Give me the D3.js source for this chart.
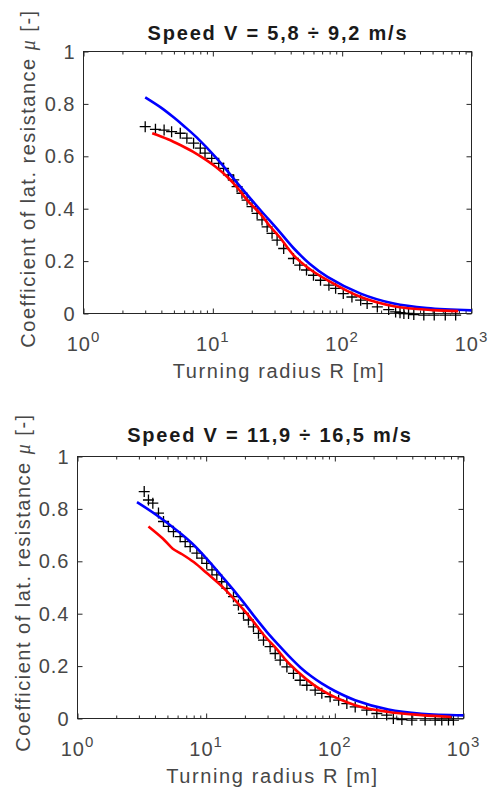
<!DOCTYPE html>
<html>
<head>
<meta charset="utf-8">
<script src="https://cdnjs.cloudflare.com/ajax/libs/d3/7.8.5/d3.min.js"></script>
<style>
  body { margin: 0; background: #fff; }
  svg { display: block; font-family: 'Liberation Sans', Arial, sans-serif; }
</style>
</head>
<body>
<svg id="chart" width="491" height="792"></svg>
<script>
// titles and tick labels
const titles = ['Speed V = 5,8 \u00f7 9,2 m/s', 'Speed V = 11,9 \u00f7 16,5 m/s']
const xLabel = 'Turning radius R [m]'
const yLabelText = 'Coefficient of lat. resistance '
const yTicks = [0, 0.2, 0.4, 0.6, 0.8, 1]
const yTickLabels = ['0', '0.2', '0.4', '0.6', '0.8', '1']
const xDecades = [0, 1, 2, 3]

// top panel: measured points (+), blue model, red model
const topMeasR = [3.0, 3.6, 4.2, 4.8, 5.6, 6.3, 7.1, 8.0, 8.7, 9.8, 11.1, 12.1, 13.2, 14.5, 15.4, 16.8, 18.4, 20.1, 22.0, 24.0, 26.3, 28.7, 31.4, 35.3, 42, 47, 53, 60, 68, 79, 89, 102, 119, 139, 156, 187, 229, 259, 280, 300, 326, 358, 428, 515, 627, 754]
const topMeasMu = [0.713, 0.703, 0.700, 0.694, 0.688, 0.669, 0.650, 0.631, 0.612, 0.592, 0.573, 0.554, 0.529, 0.510, 0.484, 0.459, 0.433, 0.408, 0.382, 0.357, 0.331, 0.306, 0.280, 0.248, 0.210, 0.185, 0.166, 0.146, 0.127, 0.108, 0.096, 0.076, 0.063, 0.051, 0.038, 0.025, 0.015, 0.006, 0.003, 0.0, 0.0, -0.004, -0.006, -0.006, -0.006, -0.006]
const topBlueR = [3, 4, 5, 6, 7.5, 10.8, 16.3, 23.3, 32, 42, 56, 77, 139, 251, 453, 1000]
const topBlueMu = [0.825, 0.785, 0.748, 0.715, 0.672, 0.59, 0.484, 0.395, 0.318, 0.25, 0.19, 0.14, 0.076, 0.038, 0.021, 0.012]
const topRedR = [3.4, 4.5, 5.6, 7, 8.5, 10.5, 12.9, 15.5, 18.4, 23.3, 27.9, 33, 42, 56, 77, 139, 251, 500, 790]
const topRedMu = [0.688, 0.665, 0.643, 0.618, 0.592, 0.56, 0.522, 0.48, 0.433, 0.38, 0.331, 0.29, 0.223, 0.17, 0.127, 0.063, 0.028, 0.013, 0.009]

// bottom panel
const botMeasR = [3.30, 3.56, 3.85, 4.26, 4.66, 5.09, 5.57, 6.28, 6.87, 7.51, 8.47, 9.26, 10.1, 11.1, 12.1, 13.2, 14.5, 16.3, 17.8, 19.5, 21.3, 23.3, 25.5, 27.9, 31.4, 34.4, 37.6, 42.4, 47.7, 53.7, 60.6, 70.3, 79.2, 91.9, 107, 124, 144, 177, 212, 253, 285, 332, 397, 503, 602, 678, 764, 835]
const botMeasMu = [0.866, 0.834, 0.822, 0.784, 0.752, 0.733, 0.713, 0.694, 0.675, 0.656, 0.631, 0.612, 0.592, 0.567, 0.548, 0.522, 0.497, 0.465, 0.433, 0.401, 0.376, 0.350, 0.325, 0.299, 0.274, 0.248, 0.223, 0.197, 0.172, 0.146, 0.127, 0.108, 0.096, 0.083, 0.070, 0.057, 0.044, 0.032, 0.019, 0.013, 0.0, -0.004, -0.006, -0.006, -0.006, -0.006, -0.006, -0.006]
const botBlueR = [2.9, 4.26, 7.75, 14, 18.9, 24, 29.7, 36, 43.6, 54, 66, 79, 100, 144, 261, 472, 1000]
const botBlueMu = [0.826, 0.771, 0.669, 0.529, 0.452, 0.386, 0.33, 0.284, 0.24, 0.195, 0.16, 0.134, 0.105, 0.07, 0.034, 0.018, 0.012]
const botRedR = [3.56, 4.6, 5.5, 6.5, 8, 10.1, 14, 18.9, 23.3, 28.8, 35.4, 43.6, 79, 144, 261, 472, 805]
const botRedMu = [0.733, 0.687, 0.648, 0.627, 0.597, 0.555, 0.493, 0.423, 0.37, 0.312, 0.265, 0.212, 0.108, 0.051, 0.025, 0.013, 0.006]

const svg = d3.select('#chart')
const textColor = '#474747'
const axisColor = '#262626'

function drawPanel(box, title, measR, measMu, blueR, blueMu, redR, redMu) {
  const g = svg.append('g')

  const x = d3.scaleLog().domain([1, 1000]).range([box.left, box.right])
  const y = d3.scaleLinear().domain([0, 1]).range([box.bottom, box.top])

  const minor = []
  xDecades.slice(0, -1).forEach(e => {
    for (let m = 2; m < 10; m++) minor.push(m * Math.pow(10, e))
  })
  const major = xDecades.map(e => Math.pow(10, e))

  const tickAxes = [
    [d3.axisBottom(x).tickValues(major).tickSize(-5), `translate(0,${box.bottom})`],
    [d3.axisBottom(x).tickValues(minor).tickSize(-3), `translate(0,${box.bottom})`],
    [d3.axisTop(x).tickValues(major).tickSize(-5), `translate(0,${box.top})`],
    [d3.axisTop(x).tickValues(minor).tickSize(-3), `translate(0,${box.top})`],
    [d3.axisLeft(y).tickValues(yTicks).tickSize(-5), `translate(${box.left},0)`],
    [d3.axisRight(y).tickValues(yTicks).tickSize(-5), `translate(${box.right},0)`]
  ]
  tickAxes.forEach(([ax, tr]) => {
    g.append('g')
      .attr('transform', tr)
      .call(ax.tickFormat(''))
      .call(a => a.select('.domain').remove())
      .call(a => a.selectAll('line').attr('stroke', axisColor))
  })

  // y tick labels
  g.selectAll('.ylab')
    .data(yTicks)
    .join('text')
    .attr('class', 'ylab')
    .attr('x', box.left - 8)
    .attr('y', d => y(d))
    .attr('dy', '0.35em')
    .attr('text-anchor', 'end')
    .attr('font-size', 20)
    .attr('letter-spacing', 1)
    .attr('fill', textColor)
    .text((d, i) => yTickLabels[i])

  // x tick labels 10^n
  const xl = g.selectAll('.xlab')
    .data(xDecades)
    .join('text')
    .attr('class', 'xlab')
    .attr('x', d => x(Math.pow(10, d)))
    .attr('y', box.bottom + 37)
    .attr('text-anchor', 'middle')
    .attr('font-size', 20)
    .attr('letter-spacing', 1)
    .attr('fill', textColor)
  xl.append('tspan').text('10')
  xl.append('tspan').attr('dy', -9).attr('font-size', 15).text(d => d)

  // box
  g.append('rect')
    .attr('x', box.left)
    .attr('y', box.top)
    .attr('width', box.right - box.left)
    .attr('height', box.bottom - box.top)
    .attr('fill', 'none')
    .attr('stroke', axisColor)
    .attr('stroke-width', 1)

  // measured crosses
  const meas = measR.map((r, i) => ({ r: r, mu: measMu[i] }))
  g.selectAll('.cross')
    .data(meas)
    .join('path')
    .attr('class', 'cross')
    .attr('d', 'M-5.5,0H5.5M0,-5.5V5.5')
    .attr('transform', d => `translate(${x(d.r)},${y(d.mu)})`)
    .attr('stroke', '#000')
    .attr('stroke-width', 1.3)
    .attr('fill', 'none')

  const line = d3.line()
    .x(d => x(d[0]))
    .y(d => y(d[1]))
    .curve(d3.curveCatmullRom.alpha(0.5))

  g.append('path')
    .datum(blueR.map((r, i) => [r, blueMu[i]]))
    .attr('d', line)
    .attr('fill', 'none')
    .attr('stroke', '#0000ff')
    .attr('stroke-width', 2.6)

  g.append('path')
    .datum(redR.map((r, i) => [r, redMu[i]]))
    .attr('d', line)
    .attr('fill', 'none')
    .attr('stroke', '#ff0000')
    .attr('stroke-width', 2.6)

  // title
  g.append('text')
    .attr('x', box.titleX)
    .attr('y', box.titleY)
    .attr('text-anchor', 'middle')
    .attr('font-size', 20)
    .attr('font-weight', 'bold')
    .attr('letter-spacing', 1.8)
    .attr('fill', '#1a1a1a')
    .text(title)

  // x label
  g.append('text')
    .attr('x', box.xLabelX)
    .attr('y', box.xLabelY)
    .attr('text-anchor', 'middle')
    .attr('font-size', 20)
    .attr('letter-spacing', 1.6)
    .attr('fill', textColor)
    .text(xLabel)

  // y label
  const yl = g.append('text')
    .attr('transform', `translate(${box.yLabelX},${box.yLabelY}) rotate(-90)`)
    .attr('text-anchor', 'middle')
    .attr('font-size', 20)
    .attr('letter-spacing', 1.5)
    .attr('fill', textColor)
  yl.append('tspan').text(yLabelText)
  yl.append('tspan')
    .attr('font-family', "'Liberation Serif', serif")
    .attr('font-style', 'italic')
    .text('\u03bc')
  yl.append('tspan').text(' [-]')
}

drawPanel(
  { left: 83.5, right: 471.5, top: 51.5, bottom: 313.5, titleX: 278, titleY: 40, xLabelX: 279, xLabelY: 378, yLabelX: 35, yLabelY: 178.5 },
  titles[0], topMeasR, topMeasMu, topBlueR, topBlueMu, topRedR, topRedMu
)
drawPanel(
  { left: 77.5, right: 463.5, top: 456.5, bottom: 718.5, titleX: 270, titleY: 442, xLabelX: 272.5, xLabelY: 783, yLabelX: 30, yLabelY: 582.5 },
  titles[1], botMeasR, botMeasMu, botBlueR, botBlueMu, botRedR, botRedMu
)
</script>
</body>
</html>
